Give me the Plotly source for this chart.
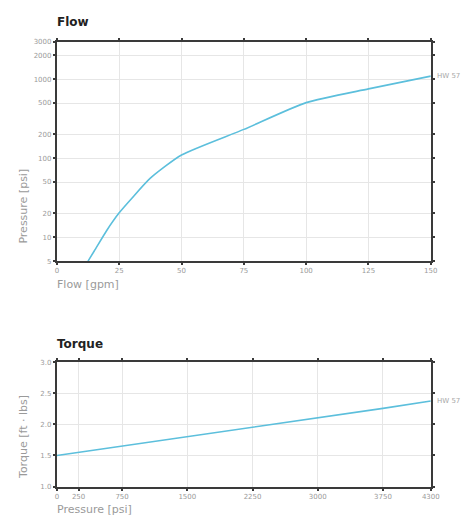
import math
import plotly.graph_objects as go

# ---- data ----
flow_gpm = [12.5, 15, 20, 25, 30, 37.5, 50, 75, 100, 125, 150]
flow_psi = [5, 6.7, 12.2, 20.4, 31, 56, 110, 232, 506, 755, 1096]
flow_xticks = [0, 25, 50, 75, 100, 125, 150]
flow_yticks = [5, 10, 20, 50, 100, 200, 500, 1000, 2000, 3000]

torque_psi = [0, 250, 750, 1500, 2250, 3000, 3750, 4300]
torque_ftlb = [1.5, 1.55, 1.66, 1.81, 1.96, 2.11, 2.26, 2.38]
torque_xticks = [0, 250, 750, 1500, 2250, 3000, 3750, 4300]
torque_yticks = [1.0, 1.5, 2.0, 2.5, 3.0]

series_name = "HW 57"

OFF = 8  # default page body margin
W, H = 473 - OFF, 523 - OFF
LINE = "#5cbfdc"
AX = "#3a3a3a"
GRID = "#e6e6e6"
TICKF = dict(family="DejaVu Sans", size=7, color="#9a9a9a")

def px_x(p):
    return (p - OFF) / W

def px_y(p):
    return 1 - (p - OFF) / H

fig = go.Figure()
fig.add_trace(go.Scatter(x=flow_gpm, y=flow_psi, mode="lines", name=series_name,
                         line=dict(color=LINE, width=1.6, shape="spline", smoothing=0.6),
                         xaxis="x", yaxis="y", showlegend=False, cliponaxis=True))
fig.add_trace(go.Scatter(x=torque_psi, y=torque_ftlb, mode="lines", name=series_name,
                         line=dict(color=LINE, width=1.6), xaxis="x2", yaxis="y2",
                         showlegend=False))

axcommon = dict(showline=True, linecolor=AX, linewidth=2, mirror="ticks",
                ticks="outside", ticklen=2, tickwidth=2, tickcolor=AX,
                showgrid=True, gridcolor=GRID, gridwidth=1, zeroline=False,
                tickfont=TICKF)

fig.update_layout(
    width=W, height=H,
    margin=dict(l=0, r=0, t=0, b=0),
    paper_bgcolor="white", plot_bgcolor="white",
    xaxis=dict(domain=[px_x(56), px_x(439)], anchor="y", range=[0, 150],
               tickvals=flow_xticks, ticktext=[str(v) for v in flow_xticks], **axcommon),
    yaxis=dict(domain=[px_y(261), px_y(38)], anchor="x", type="log",
               range=[math.log10(5), math.log10(3000)],
               tickvals=flow_yticks, ticktext=[str(v) for v in flow_yticks], **axcommon),
    xaxis2=dict(domain=[px_x(56), px_x(439)], anchor="y2", range=[0, 4300],
                tickvals=torque_xticks, ticktext=[str(v) for v in torque_xticks], **axcommon),
    yaxis2=dict(domain=[px_y(490), px_y(364)], anchor="x2", range=[1.0, 3.0],
                tickvals=torque_yticks, ticktext=[f"{v:.1f}" for v in torque_yticks], **axcommon),
)

ann = []
titlef = dict(family="DejaVu Sans", size=12, color="#222222")
ann.append(dict(text="<b>Flow</b>", x=px_x(54), y=px_y(18), xref="paper", yref="paper",
                xanchor="left", yanchor="middle", showarrow=False, font=titlef))
ann.append(dict(text="<b>Torque</b>", x=px_x(54), y=px_y(345), xref="paper", yref="paper",
                xanchor="left", yanchor="middle", showarrow=False, font=titlef))
labf = dict(family="DejaVu Sans", size=11, color="#9a9a9a")
ann.append(dict(text="Flow [gpm]", x=px_x(54), y=px_y(285), xref="paper", yref="paper",
                xanchor="left", yanchor="middle", showarrow=False, font=labf))
ann.append(dict(text="Pressure [psi]", x=px_x(54), y=px_y(513), xref="paper", yref="paper",
                xanchor="left", yanchor="middle", showarrow=False, font=labf))
ann.append(dict(text="Pressure [psi]", x=px_x(22), y=px_y(205), xref="paper", yref="paper",
                xanchor="center", yanchor="middle", showarrow=False, font=labf, textangle=-90))
ann.append(dict(text="Torque [ft · lbs]", x=px_x(22), y=px_y(440), xref="paper", yref="paper",
                xanchor="center", yanchor="middle", showarrow=False, font=labf, textangle=-90))
endf = dict(family="DejaVu Sans", size=7, color="#a8a8a8")
ann.append(dict(text=series_name, x=flow_gpm[-1], y=math.log10(flow_psi[-1]), xref="x", yref="y",
                xanchor="left", yanchor="middle", xshift=4, showarrow=False, font=endf))
ann.append(dict(text=series_name, x=torque_psi[-1], y=torque_ftlb[-1], xref="x2", yref="y2",
                xanchor="left", yanchor="middle", xshift=4, showarrow=False, font=endf))
fig.update_layout(annotations=ann)

fig.write_html("out.html")
